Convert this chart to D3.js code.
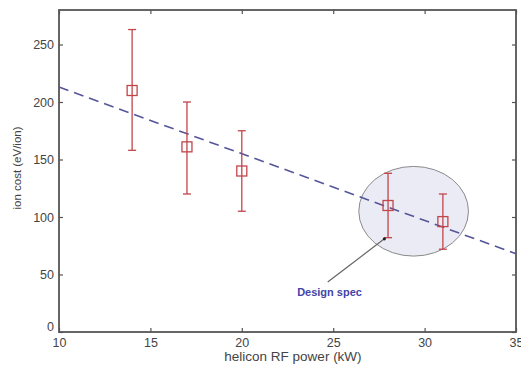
<!DOCTYPE html>
<html>
<head>
<meta charset="utf-8">
<script src="https://cdn.jsdelivr.net/npm/d3@7"></script>
<style>
  body { margin: 0; background: #fff; }
  text { font-family: "Liberation Sans", Arial, sans-serif; }
</style>
</head>
<body>
<div id="chart"></div>
<script>
// measured points (helicon RF power, ion cost, error bar limits)
const power = [14, 17, 20, 28, 31];
const ionCost = [210, 161, 140, 110, 96];
const errHigh = [263, 200, 175, 138, 120];
const errLow = [158, 120, 105, 82, 72];

// dashed trend line end points
const fitPower = [10, 35];
const fitCost = [213, 68];

// "Design spec" region
const specCenter = [29.4, 105];
const specRadius = [3.0, 39];

const xTicks = [10, 15, 20, 25, 30, 35];
const yTicks = [0, 50, 100, 150, 200, 250];

const size = { width: 521, height: 366 };
const margin = { top: 10, right: 5, bottom: 34, left: 59 };
const w = size.width - margin.left - margin.right;
const h = size.height - margin.top - margin.bottom;

const svg = d3.select("#chart").append("svg")
  .attr("width", size.width)
  .attr("height", size.height);

const g = svg.append("g")
  .attr("transform", "translate(" + margin.left + "," + margin.top + ")");

const x = d3.scaleLinear().domain([10, 35]).range([0, w]);
const y = d3.scaleLinear().domain([0, 280]).range([h, 0]);

const axisColor = "#555";

// ellipse behind everything
g.append("ellipse")
  .attr("cx", x(specCenter[0]))
  .attr("cy", y(specCenter[1]))
  .attr("rx", x(specCenter[0] + specRadius[0]) - x(specCenter[0]))
  .attr("ry", y(0) - y(specRadius[1]))
  .attr("fill", "#ebebf5")
  .attr("stroke", "#8a8a8a")
  .attr("stroke-width", 1);

// axes (ticks point inward, box on all sides)
g.append("g")
  .attr("transform", "translate(0," + h + ")")
  .call(d3.axisBottom(x).tickValues(xTicks).tickSizeInner(-4).tickSizeOuter(0).tickPadding(6));
const yAxis = g.append("g")
  .call(d3.axisLeft(y).tickValues(yTicks).tickSizeInner(-4).tickSizeOuter(0).tickPadding(5));
g.append("g")
  .call(d3.axisTop(x).tickValues(xTicks).tickSizeInner(-4).tickSizeOuter(0).tickFormat(""));
g.append("g")
  .attr("transform", "translate(" + w + ",0)")
  .call(d3.axisRight(y).tickValues(yTicks).tickSizeInner(-4).tickSizeOuter(0).tickFormat(""));

g.append("rect")
  .attr("width", w).attr("height", h)
  .attr("fill", "none")
  .attr("stroke", axisColor)
  .attr("stroke-width", 1.8);

g.selectAll(".domain").attr("stroke", "none");
g.selectAll(".tick line").attr("stroke", axisColor).attr("stroke-width", 1.2);
g.selectAll(".tick text")
  .attr("fill", "#444")
  .style("font-size", "12.5px");
yAxis.selectAll(".tick")
  .filter(d => d === 0)
  .select("text").attr("dy", "-0.1em");

// dashed fit line
g.append("line")
  .attr("x1", x(fitPower[0])).attr("y1", y(fitCost[0]))
  .attr("x2", x(fitPower[1])).attr("y2", y(fitCost[1]))
  .attr("stroke", "#55559a")
  .attr("stroke-width", 1.6)
  .attr("stroke-dasharray", "10,6");

// error bars
const data = power.map((p, i) => ({ p, c: ionCost[i], hi: errHigh[i], lo: errLow[i] }));
const red = "#c2454a";
const bars = g.selectAll(".err").data(data).join("g").attr("class", "err");
bars.append("line")
  .attr("x1", d => x(d.p)).attr("x2", d => x(d.p))
  .attr("y1", d => y(d.hi)).attr("y2", d => y(d.lo))
  .attr("stroke", red).attr("stroke-width", 1.3);
bars.append("line")
  .attr("x1", d => x(d.p) - 4).attr("x2", d => x(d.p) + 4)
  .attr("y1", d => y(d.hi)).attr("y2", d => y(d.hi))
  .attr("stroke", red).attr("stroke-width", 1.3);
bars.append("line")
  .attr("x1", d => x(d.p) - 4).attr("x2", d => x(d.p) + 4)
  .attr("y1", d => y(d.lo)).attr("y2", d => y(d.lo))
  .attr("stroke", red).attr("stroke-width", 1.3);
bars.append("rect")
  .attr("x", d => x(d.p) - 5).attr("y", d => y(d.c) - 5)
  .attr("width", 10).attr("height", 10)
  .attr("fill", "none")
  .attr("stroke", red).attr("stroke-width", 1.3);

// annotation arrow + label
g.append("line")
  .attr("x1", x(24.7)).attr("y1", y(43.5))
  .attr("x2", x(27.8)).attr("y2", y(81))
  .attr("stroke", "#666").attr("stroke-width", 1.2);
g.append("circle")
  .attr("cx", x(27.8)).attr("cy", y(81)).attr("r", 1.6)
  .attr("fill", "#222");
g.append("text")
  .attr("x", x(24.8)).attr("y", y(31))
  .attr("text-anchor", "middle")
  .attr("fill", "#4444a8")
  .style("font-size", "11px")
  .style("font-weight", "bold")
  .text("Design spec");

// axis labels
svg.append("text")
  .attr("x", margin.left + x(22.8)).attr("y", 361)
  .attr("text-anchor", "middle")
  .attr("fill", "#444")
  .style("font-size", "13.5px")
  .text("helicon RF power (kW)");
svg.append("text")
  .attr("transform", "translate(21,168) rotate(-90)")
  .attr("text-anchor", "middle")
  .attr("fill", "#444")
  .style("font-size", "11.5px")
  .text("ion cost (eV/ion)");
</script>
</body>
</html>
